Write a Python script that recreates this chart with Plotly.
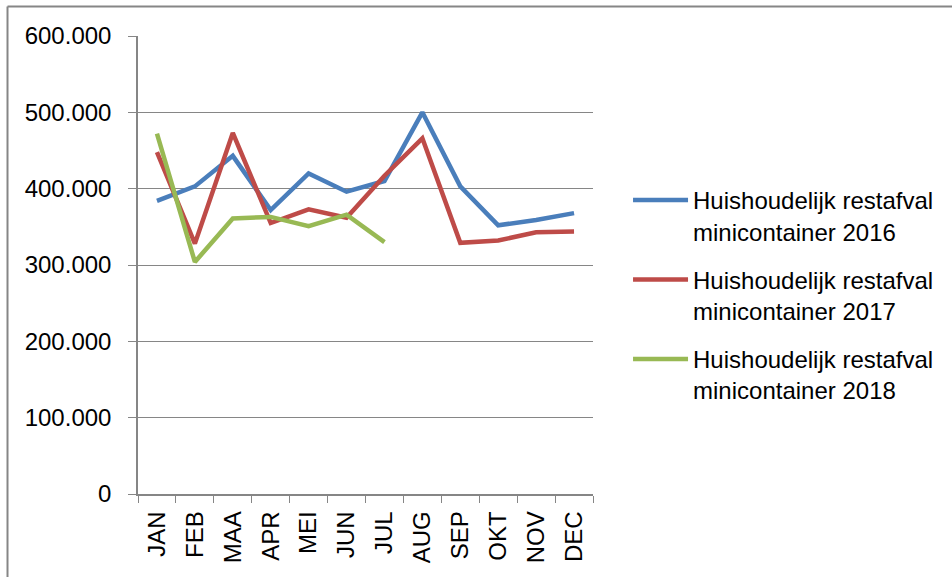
import plotly.graph_objects as go

months = ["JAN", "FEB", "MAA", "APR", "MEI", "JUN", "JUL", "AUG", "SEP", "OKT", "NOV", "DEC"]
vals_2016 = [384000, 403000, 443000, 372000, 420000, 396000, 410000, 500000, 403000, 352000, 359000, 368000]
vals_2017 = [448000, 328000, 473000, 355000, 373000, 362000, 417000, 466000, 329000, 332000, 343000, 344000]
vals_2018 = [472000, 304000, 361000, 363000, 351000, 366000, 330000]
names = ["Huishoudelijk restafval<br>minicontainer 2016",
         "Huishoudelijk restafval<br>minicontainer 2017",
         "Huishoudelijk restafval<br>minicontainer 2018"]
colors = ["#4A7EBB", "#BE4B48", "#98B954"]
y_ticks = [0, 100000, 200000, 300000, 400000, 500000, 600000]

fig = go.Figure()
for i, (vals, name, col) in enumerate(zip([vals_2016, vals_2017, vals_2018], names, colors)):
    fig.add_trace(go.Scatter(
        x=months[:len(vals)], y=vals, name=name, mode="lines",
        line=dict(color=col, width=4.5), legendgroup=f"g{i}"))

grey = "#868686"
font = dict(family="Liberation Sans, Arial, sans-serif", size=24, color="#000000")
fig.update_layout(
    width=952, height=577,
    margin=dict(l=138, r=359, t=36, b=83),
    paper_bgcolor="white", plot_bgcolor="white",
    font=font,
    separators=",.",
    showlegend=True,
    legend=dict(x=1.077, y=0.69, xanchor="left", yanchor="top", valign="top",
                itemwidth=55, font=font, tracegroupgap=14, bgcolor="rgba(0,0,0,0)"),
    xaxis=dict(categoryorder="array", categoryarray=months, range=[-0.5, 11.5],
               showline=True, linecolor=grey, linewidth=1.5,
               ticks="outside", tickson="boundaries", ticklen=7, tickcolor=grey,
               tickangle=-90, showgrid=False, tickfont=font, ticklabelstandoff=6),
    yaxis=dict(range=[0, 600000], tickvals=y_ticks, tickformat=",.0f",
               showline=True, linecolor=grey, linewidth=1.5,
               ticks="outside", ticklen=8, tickcolor=grey,
               showgrid=True, gridcolor=grey, gridwidth=1.2,
               zeroline=False, tickfont=font, ticklabelstandoff=12),
    shapes=[
        dict(type="line", xref="paper", yref="paper", x0=-0.2868, x1=1.8, y0=1.0644, y1=1.0644,
             line=dict(color=grey, width=2)),
        dict(type="line", xref="paper", yref="paper", x0=-0.2868, x1=-0.2868, y0=1.0644, y1=-0.2,
             line=dict(color=grey, width=2)),
    ],
)

fig.write_html("out.html", config={"displayModeBar": False},
               post_script="document.body.style.margin='0';")
